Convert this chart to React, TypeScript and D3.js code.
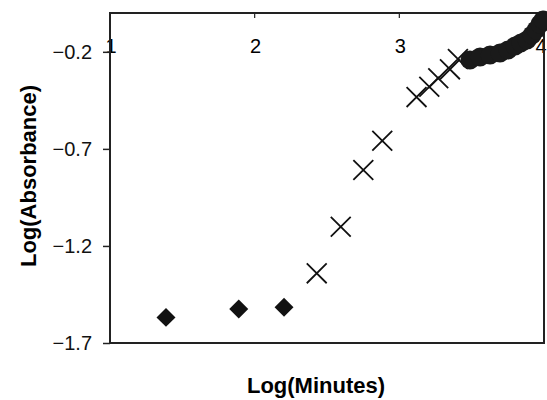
import React, {useEffect, useRef} from 'react';
import * as d3 from 'd3';

// log(minutes) / log(absorbance)
const diamondX = [1.387, 1.890, 2.203];
const diamondY = [-1.568, -1.525, -1.516];

const crossX = [2.429, 2.595, 2.751, 2.882, 3.119, 3.207, 3.269, 3.350, 3.405];
const crossY = [-1.341, -1.101, -0.809, -0.658, -0.433, -0.380, -0.336, -0.290, -0.237];

const circleX = [3.488, 3.558, 3.627, 3.696, 3.751, 3.800, 3.841, 3.883, 3.917, 3.945, 3.972, 3.993];
const circleY = [-0.242, -0.227, -0.216, -0.206, -0.191, -0.170, -0.154, -0.139, -0.113, -0.087, -0.057, -0.036];

const xTicks = [1, 2, 3, 4];
const yTicks = [-0.2, -0.7, -1.2, -1.7];

const width = 547;
const height = 400;
const font = '"Liberation Sans", Arial, sans-serif';

const App = () => {
    const svgRef = useRef(null);

    useEffect(() => {
        const svg = d3.select(svgRef.current);
        svg.selectAll('*').remove();

        const x = d3.scaleLinear().domain([1, 4]).range([110, 544]);
        const y = d3.scaleLinear().domain([-1.7, 0]).range([343, 13]);

        // x tick labels sit along the top of the plot
        svg.append('g').selectAll('text')
            .data(xTicks)
            .enter().append('text')
            .attr('x', (d) => (d === 4 ? x(d) - 3 : x(d) + 1))
            .attr('y', 53)
            .attr('text-anchor', 'middle')
            .style('font-family', font)
            .style('font-size', '20px')
            .text((d) => d);

        // x tick marks hanging down from the top border
        svg.append('g').selectAll('line')
            .data(xTicks)
            .enter().append('line')
            .attr('x1', (d) => x(d)).attr('x2', (d) => x(d))
            .attr('y1', 13).attr('y2', 18)
            .attr('stroke', '#222').attr('stroke-width', 1.2);

        // y axis
        const yAxis = d3.axisLeft(y).tickValues(yTicks).tickSize(7).tickPadding(11)
            .tickFormat(d3.format('.1f'));
        const gy = svg.append('g').attr('transform', 'translate(110,0)').call(yAxis);
        gy.select('.domain').remove();
        gy.selectAll('line').attr('stroke', '#222').attr('stroke-width', 1.5);
        gy.selectAll('text')
            .style('font-family', font)
            .style('font-size', '20px')
            .attr('fill', '#111');

        // plot frame
        svg.append('rect')
            .attr('x', x(1)).attr('y', y(0))
            .attr('width', x(4) - x(1)).attr('height', y(-1.7) - y(0))
            .attr('fill', 'none')
            .attr('stroke', '#222')
            .attr('stroke-width', 2);

        // diamonds
        const diamond = d3.symbol().type(d3.symbolSquare).size(180);
        svg.append('g').selectAll('path')
            .data(diamondX)
            .enter().append('path')
            .attr('d', diamond)
            .attr('transform', (d, i) => 'translate(' + x(d) + ',' + y(diamondY[i]) + ') rotate(45)')
            .attr('fill', '#111');

        // crosses
        const cross = d3.symbol().type(d3.symbolTimes).size(260);
        svg.append('g').selectAll('path')
            .data(crossX)
            .enter().append('path')
            .attr('d', cross)
            .attr('transform', (d, i) => 'translate(' + x(d) + ',' + y(crossY[i]) + ')')
            .attr('fill', 'none')
            .attr('stroke', '#111')
            .attr('stroke-width', 1.8);

        // big filled circles that merge into one band
        svg.append('g').selectAll('circle')
            .data(circleX)
            .enter().append('circle')
            .attr('cx', (d) => x(d))
            .attr('cy', (d, i) => y(circleY[i]))
            .attr('r', 9.5)
            .attr('fill', '#1a1a1a');

        // axis titles
        svg.append('text')
            .attr('x', 316)
            .attr('y', 393)
            .attr('text-anchor', 'middle')
            .style('font-family', font)
            .style('font-size', '22px')
            .style('font-weight', 'bold')
            .text('Log(Minutes)');

        svg.append('text')
            .attr('transform', 'translate(36,176) rotate(-90)')
            .attr('text-anchor', 'middle')
            .style('font-family', font)
            .style('font-size', '22px')
            .style('font-weight', 'bold')
            .text('Log(Absorbance)');
    }, []);

    return <svg ref={svgRef} width={width} height={height}
                style={{position: 'absolute', left: 0, top: 0, background: '#fff'}}/>;
};

export default App;
